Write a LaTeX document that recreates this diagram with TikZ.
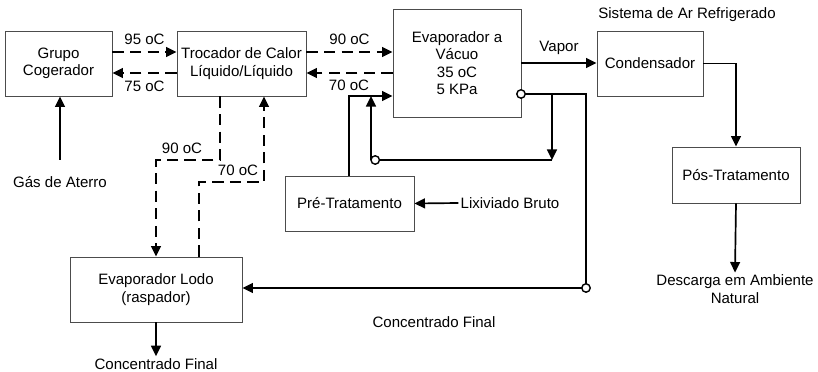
\documentclass[tikz,border=0pt]{standalone}
\usepackage{fontspec}
\setmainfont{Liberation Sans}
\usetikzlibrary{arrows.meta}
\tikzset{
  caixa/.style={draw=black!70,line width=0.6pt,align=center,inner sep=0pt},
  quente/.style={dash pattern=on 8pt off 4.5pt},
  rotulo/.style={inner sep=1pt,align=center}
}
\begin{document}
\begin{tikzpicture}[x=0.025cm,y=-0.025cm,font=\fontsize{10.7}{12.3}\selectfont,>={Triangle[length=7.5pt,width=7pt]},line width=1.2pt]
\useasboundingbox (0,0) rectangle (818,372);
% blocos
\node[caixa,minimum width=2.675cm,minimum height=1.625cm] (grupo) at (58.5,63.5) {Grupo\\Cogerador};
\node[caixa,minimum width=3.225cm,minimum height=1.625cm] (trocador) at (241.5,63.5) {Trocador de Calor\\Líquido/Líquido};
\node[caixa,minimum width=3.2cm,minimum height=2.7cm] (evap) at (457,63) {Evaporador a\\Vácuo\\35 oC\\5 KPa};
\node[caixa,minimum width=2.65cm,minimum height=1.625cm] (cond) at (650,63.5) {Condensador};
\node[caixa,minimum width=3.2cm,minimum height=1.4cm] (pos) at (736,175) {Pós-Tratamento};
\node[caixa,minimum width=3.225cm,minimum height=1.375cm] (pre) at (349.5,203.5) {Pré-Tratamento};
\node[caixa,minimum width=4.3cm,minimum height=1.625cm] (lodo) at (156,289.5) {Evaporador Lodo\\(raspador)};
% textos soltos
\node[rotulo] (gas) at (60,182) {Gás de Aterro};
\node[rotulo] (lix) at (510,203) {Lixiviado Bruto};
\node[rotulo] (desc) at (735,289) {Descarga em Ambiente\\Natural};
\node[rotulo] (conc) at (156,364) {Concentrado Final};
\node[rotulo] (concB) at (434,322) {Concentrado Final};
\node[rotulo] (sist) at (687,15) {Sistema de Ar Refrigerado};
% pontos auxiliares
\coordinate (l1) at (0,52);
\coordinate (l2) at (0,73);
\coordinate (g1) at (60,160);
\coordinate (t1) at (220,160);
\coordinate (t2) at (156,160);
\coordinate (t3) at (199,182);
\coordinate (t4) at (264,182);
\coordinate (p1) at (349,96);
\coordinate (e1) at (521,94);
\coordinate (e2) at (586,94);
\coordinate (e3) at (586,288);
\coordinate (b1) at (552,94);
\coordinate (b2) at (552,160);
\coordinate (c1) at (371,160);
\coordinate (v1) at (0,63);
% circuito de agua quente
\draw[->,quente] (grupo.east |- l1) -- node[above=1pt]{95 oC} (trocador.west |- l1);
\draw[->,quente] (trocador.west |- l2) -- node[below=2pt]{75 oC} (grupo.east |- l2);
\draw[->,quente] (trocador.east |- l1) -- node[above=1pt]{90 oC} (evap.west |- l1);
\draw[->,quente] (evap.west |- l2) -- (trocador.east |- l2);
\node[rotulo] at (349,85) {70 oC};
\draw[->,quente] (trocador.south -| t1) -- (t1) -- (t2) -- (t2 |- lodo.north);
\node[rotulo] at (182,148) {90 oC};
\draw[->,quente] (t3 |- lodo.north) -- (t3) -- (t4) -- (t4 |- trocador.south);
\node[rotulo] at (238,170) {70 oC};
% linhas de processo
\draw[->] (g1) -- (g1 |- grupo.south);
\draw[->] (lix.west) -- (pre.east);
\draw[->] (pre.north -| p1) -- (p1) -- (p1 -| evap.west);
\draw[->] (evap.east |- v1) -- node[above=2pt]{Vapor} (cond.west |- v1);
\draw[->] (cond.east) -| (pos.north);
\draw[->] (pos.south) -- (desc.north);
\draw (e1) -- (e2) -- (e3);
\draw[->] (e3) -- (e3 -| lodo.east);
\draw[->] (b1) -- (b2);
\draw (b2) -- (c1);
\draw[->] (c1) -- (c1 |- p1);
\draw[->] (lodo.south) -- (conc.north);
% circulos
\draw[line width=1pt,fill=white] (e1) circle (3pt);
\draw[line width=1pt,fill=white] (e3) circle (3pt);
\draw[line width=1pt,fill=white] ([xshift=3pt]c1) circle (3pt);
\end{tikzpicture}
\end{document}
